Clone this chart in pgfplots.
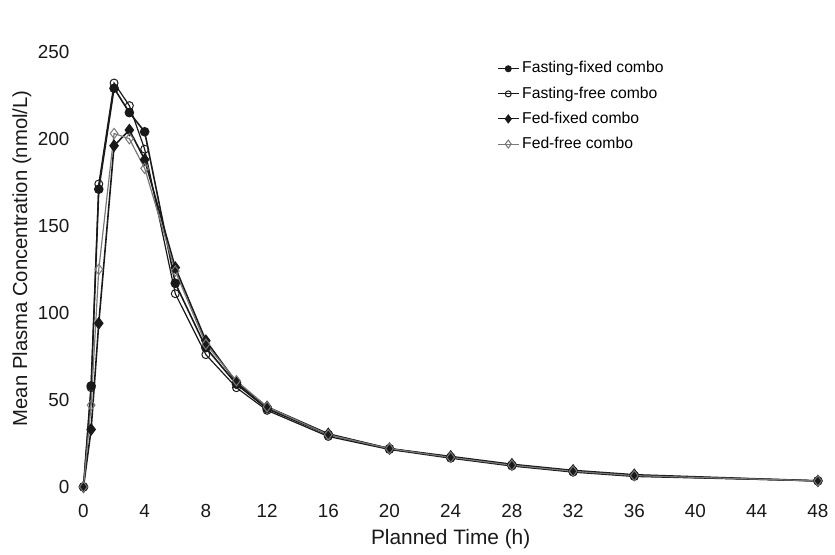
\documentclass[border=0pt]{standalone}
\usepackage{pgfplots}
\pgfplotsset{compat=1.18}
\usepackage{fontspec}
\setmainfont{Liberation Sans}
\definecolor{dk}{RGB}{25,25,25}
\definecolor{gr}{RGB}{120,120,120}
\begin{document}
\begin{tikzpicture}[x=1pt,y=1pt]
\begin{axis}[
  at={(0,0)}, anchor=origin,
  scale only axis, width=369.5pt, height=219pt,
  xmin=0, xmax=48, ymin=0, ymax=250,
  clip=false,
  xtick={0,4,...,48}, ytick={0,50,...,250},
  axis line style={draw=none}, tick style={draw=none},
  /pgf/number format/assume math mode=true,
  ticklabel style={font=\fontsize{9.5}{11}\selectfont, text=dk},
  xticklabel style={anchor=center, yshift=-12pt},
  yticklabel style={anchor=east, xshift=-3.5pt},
  xlabel={Planned Time (h)}, ylabel={Mean Plasma Concentration (nmol/L)},
  xlabel style={font=\fontsize{10.5}{12}\selectfont, text=dk, at={(axis description cs:0.5,0)}, anchor=center, yshift=-26pt},
  ylabel style={font=\fontsize{10.2}{12}\selectfont, text=dk, at={(axis description cs:0,0.5)}, anchor=center, xshift=5.5pt, yshift=31pt},
  legend style={draw=none, fill=none, at={(0.563,0.985)}, anchor=north west,
    font=\fontsize{7.9}{9}\selectfont, row sep=2.4pt, inner sep=0pt, nodes={inner sep=1.5pt}},
  legend cell align=left,
  legend image code/.code={\draw[#1, line width=0.5pt] (0pt,0pt) -- (10.5pt,0pt); \draw[#1, only marks, line width=0.5pt] plot coordinates {(5.25pt,0pt)};},
]
\addplot[dk, line width=0.8pt, mark=*, mark size=2pt, mark options={fill=dk, draw=dk}, legend image post style={mark size=1.5pt}] coordinates {
(0,0) (0.5,58) (1,171) (2,229) (3,215) (4,204) (6,117) (8,80) (10,59) (12,45) (16,30) (20,22) (24,17) (28,12.5) (32,9) (36,6.5) (48,3.5)};
\addlegendentry{Fasting-fixed combo}
\addplot[dk, line width=0.6pt, mark=o, mark size=2pt, mark options={fill=white, draw=dk, line width=0.5pt}, legend image post style={mark size=1.5pt}] coordinates {
(0,0) (0.5,57) (1,174) (2,232) (3,219) (4,194) (6,111) (8,76) (10,57) (12,44) (16,29) (20,21.5) (24,16.5) (28,12) (32,8.5) (36,6) (48,3.5)};
\addlegendentry{Fasting-free combo}
\addplot[dk, line width=0.8pt, mark=diamond*, mark size=2.6pt, mark options={fill=dk, draw=dk}, legend image post style={mark size=2pt}] coordinates {
(0,0) (0.5,33) (1,94) (2,196) (3,205) (4,188) (6,126) (8,84) (10,60) (12,46) (16,30.5) (20,22) (24,17.5) (28,13) (32,9.5) (36,7) (48,3.5)};
\addlegendentry{Fed-fixed combo}
\addplot[gr, line width=0.6pt, mark=diamond, mark size=2.6pt, mark options={fill=white, draw=gr, line width=0.5pt}, legend image post style={mark size=2pt}] coordinates {
(0,0) (0.5,47) (1,125) (2,203) (3,200) (4,183) (6,124) (8,82) (10,61) (12,46) (16,30) (20,22) (24,17) (28,12.5) (32,9) (36,6.5) (48,3.5)};
\addlegendentry{Fed-free combo}
\end{axis}
\path[use as bounding box] (-42pt,-31pt) rectangle (375.5pt,245pt);
\end{tikzpicture}
\end{document}
